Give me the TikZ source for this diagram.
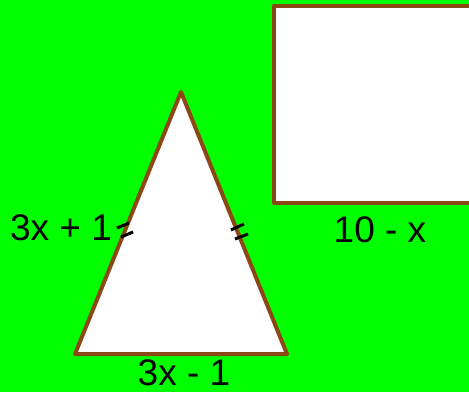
\documentclass[tikz,border=0pt]{standalone}
\usepackage{fontspec}
\setmainfont{Liberation Sans}
\definecolor{fieldgreen}{RGB}{0,255,0}
\definecolor{edgebrown}{RGB}{140,72,20}

\begin{document}
\begin{tikzpicture}[x=1pt,y=-1pt,
  figure/.style={fill=white,draw=edgebrown,line width=4pt,line join=round},
  tickmark/.style={draw=black,line width=3pt},
  len/.style={font=\fontsize{37}{42}\selectfont,anchor=base,inner sep=0pt}]
  \fill[fieldgreen] (0,0) rectangle (469,392);
  \clip (0,0) rectangle (469,392);
  % square, cut off at the right
  \draw[figure] (274,6) rectangle (480,203);
  % isosceles triangle
  \coordinate (apex) at (181,92);
  \coordinate (bl) at (75,354);
  \coordinate (br) at (287,354);
  \draw[figure] (apex) -- (br) -- (bl) -- cycle;
  % equal-side marks
  \draw[tickmark] (117,228) -- (129,223);
  \draw[tickmark] (121,237) -- (133,232);
  \draw[tickmark] (231,230) -- (244,224);
  \draw[tickmark] (235,239) -- (248,234);
  % labels
  \node[len] (leftside) at (61,240) {3x + 1};
  \node[len] (topside) at (380,242) {10 - x};
  \node[len] (base) at (184,385) {3x - 1};
\end{tikzpicture}
\end{document}
